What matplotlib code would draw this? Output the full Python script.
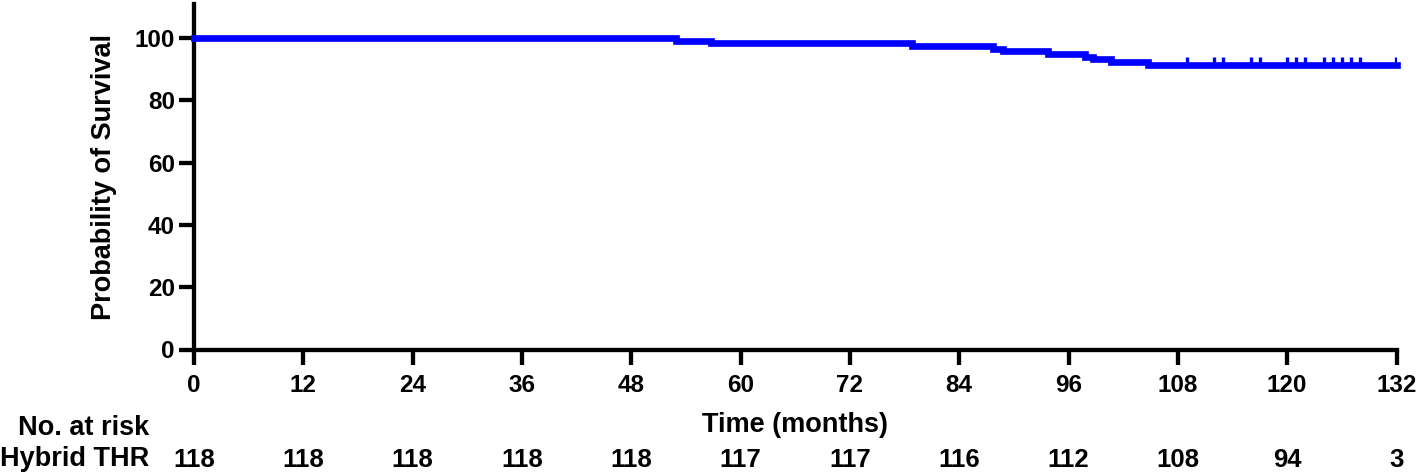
import numpy as np
import matplotlib
matplotlib.use("Agg")
import matplotlib.pyplot as plt

# -- Kaplan-Meier estimate
event_times = [0, 52.9, 56.7, 78.8, 87.7, 88.8, 93.7, 97.8, 98.7, 100.7, 104.7, 132]
survival = [100, 99.15, 98.31, 97.46, 96.61, 95.76, 94.92, 94.07, 93.22, 92.37, 91.53, 91.53]
censor_times = [109, 112, 113, 116, 117, 120, 121, 122, 124, 125, 126, 127, 128, 131.9]

# -- number at risk table
risk_times = [0, 12, 24, 36, 48, 60, 72, 84, 96, 108, 120, 132]
at_risk = [118, 118, 118, 118, 118, 117, 117, 116, 112, 108, 94, 3]
group_name = "Hybrid THR"

plt.rcParams['font.family'] = ['Liberation Sans', 'DejaVu Sans']
plt.rcParams['font.weight'] = 'bold'

W, H = 1424, 475
fig = plt.figure(figsize=(W / 100, H / 100), dpi=100)
ax = fig.add_axes([194 / W, 1 - 349.5 / H, 1202.5 / W, 345.5 / H])

blue = '#0000ff'
ax.plot(event_times, survival, drawstyle='steps-post', color=blue, lw=4.8,
        solid_joinstyle='miter', zorder=3, clip_on=False)

# censor ticks drawn upward from the curve
cens_y = [survival[np.searchsorted(event_times, t, side='right') - 1] for t in censor_times]
ax.vlines(censor_times, cens_y, np.array(cens_y) + 2.4, color=blue, lw=2.4, zorder=3)

ax.set_xlim(0, 132)
ax.set_ylim(0, 111)
ax.set_xticks(risk_times)
ax.set_yticks(range(0, 101, 20))

for side in ['top', 'right']:
  ax.spines[side].set_visible(False)
for side in ['left', 'bottom']:
  ax.spines[side].set_linewidth(3.1)
  ax.spines[side].set_capstyle('projecting')
ax.tick_params(width=3.1, length=10.8, labelsize=17.5)
ax.tick_params(axis='y', pad=3)
ax.tick_params(axis='x', pad=7)
for lab in ax.get_xticklabels() + ax.get_yticklabels():
  lab.set_fontweight('bold')

ax.set_ylabel('Probability of Survival', fontsize=19.5, fontweight='bold')
ax.yaxis.label.set_va('center')
ax.yaxis.set_label_coords(104 / W, 1 - 177 / H, transform=fig.transFigure)
ax.set_xlabel('Time (months)', fontsize=19.5, fontweight='bold')
ax.xaxis.label.set_va('baseline')
ax.xaxis.set_label_coords(795 / W, 1 - 432 / H, transform=fig.transFigure)

# -- risk table under the axis
trans = matplotlib.transforms.blended_transform_factory(ax.transData, fig.transFigure)
for t, n in zip(risk_times, at_risk):
  ax.text(t, 1 - 467 / H, str(n), transform=trans, ha='center', va='baseline',
          fontsize=18.5, fontweight='bold', clip_on=False)
fig.text(18 / W, 1 - 435 / H, 'No. at risk', ha='left', va='baseline',
         fontsize=19.5, fontweight='bold')
fig.text(0, 1 - 466 / H, group_name, ha='left', va='baseline',
         fontsize=19.5, fontweight='bold')

fig.savefig('out.png', dpi=100)
